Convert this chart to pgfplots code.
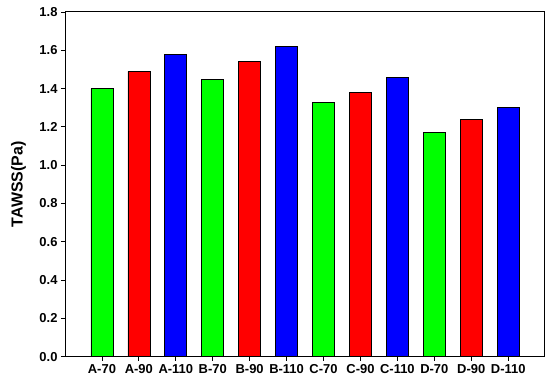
\documentclass[border=0pt]{standalone}
\usepackage{fontspec}
\setmainfont{Liberation Sans}
\usepackage{pgfplots}
\pgfplotsset{compat=1.18}
\definecolor{bgreen}{RGB}{0,255,0}
\definecolor{bred}{RGB}{255,0,0}
\definecolor{bblue}{RGB}{0,0,255}
\begin{document}
\begin{tikzpicture}
\path[use as bounding box] (-65bp,-31.3bp) rectangle (485bp,356.7bp);
\begin{axis}[
  scale only axis,
  width=479bp, height=344.7bp,
  xmin=-1, xmax=11.97,
  ymin=0, ymax=1.8,
  clip=false,
  ytick={0,0.2,...,1.8},
  yticklabel style={/pgf/number format/fixed,/pgf/number format/fixed zerofill,/pgf/number format/precision=1},
  xtick={0,...,11},
  xticklabels={A-70,A-90,A-110,B-70,B-90,B-110,C-70,C-90,C-110,D-70,D-90,D-110},
  /pgf/number format/assume math mode=true,
  tick label style={font=\fontsize{13}{15}\selectfont\bfseries},
  ylabel={TAWSS(Pa)},
  every axis y label/.style={at={(ticklabel cs:0.5)},rotate=90,anchor=south,inner sep=0pt,yshift=10bp,font=\fontsize{16}{18}\selectfont\bfseries},
  tick align=outside,
  xtick pos=bottom, ytick pos=left,
  major tick length=4bp,
  minor tick num=0,
  axis line style={line width=1pt,black},
  major tick style={line width=0.8pt,black},
]
\addplot[ybar, bar width=22bp, bar shift=0pt, draw=black, line width=0.7pt, fill=bgreen] coordinates {(0,1.40) (3,1.45) (6,1.33) (9,1.17)};
\addplot[ybar, bar width=22bp, bar shift=0pt, draw=black, line width=0.7pt, fill=bred] coordinates {(1,1.49) (4,1.54) (7,1.38) (10,1.24)};
\addplot[ybar, bar width=22bp, bar shift=0pt, draw=black, line width=0.7pt, fill=bblue] coordinates {(2,1.58) (5,1.62) (8,1.46) (11,1.30)};
\fill[black] ([xshift=-0.5pt,yshift=-0.5pt]rel axis cs:0,1) rectangle ([xshift=0.5pt,yshift=0.5pt]rel axis cs:1,1);
\fill[black] ([xshift=-0.5pt,yshift=-0.5pt]rel axis cs:1,0) rectangle ([xshift=0.5pt,yshift=0.5pt]rel axis cs:1,1);
\end{axis}
\end{tikzpicture}
\end{document}
